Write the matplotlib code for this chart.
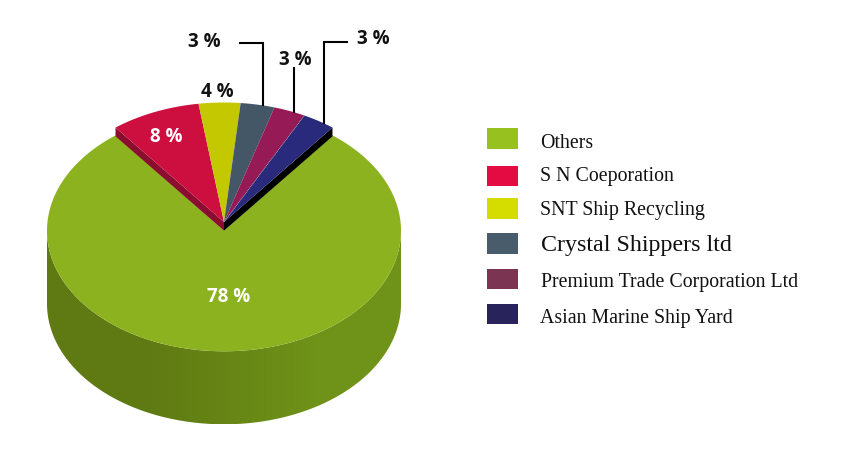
import numpy as np
from matplotlib import pyplot as plt
from matplotlib.patches import Polygon, Rectangle

names = ['Others', 'S N Coeporation', 'SNT Ship Recycling', 'Crystal Shippers ltd',
         'Premium Trade Corporation Ltd', 'Asian Marine Ship Yard']
# share of the circle as drawn, the printed labels are a bit different
shares = [79.0, 8.2, 3.8, 3.1, 2.9, 3.0]
pct_labels = ['78 %', '8 %', '4 %', '3 %', '3 %', '3 %']

slice_colors = ['#8cb31f', '#cc0f3f', '#c4c800', '#445766', '#951a55', '#2a2a7c']
legend_colors = ['#96c11f', '#e30b42', '#d5dc00', '#485c6b', '#7b3552', '#29235c']

cx, cy_top, cy_base = 224, 222, 230.7
rx, ry_top, ry_base = 177, 119.5, 120.6
depth = 73


def arc(start, end, cy, ry, n=200):
    # angles are clockwise from 12 o'clock, y axis points down
    t = np.radians(np.linspace(start, end, n))
    return cx + rx * np.sin(t), cy - ry * np.cos(t)


fig = plt.figure(figsize=(8.52, 4.54), dpi=100)
ax = fig.add_axes([0, 0, 1, 1])
ax.set_xlim(0, 852)
ax.set_ylim(454, 0)
ax.axis('off')

## angles, the small slices sit around the top
small_total = sum(shares[1:]) * 3.6
edges = -small_total / 2 + np.cumsum([0] + [s * 3.6 for s in shares[1:]])

## side of the cylinder, a horizontal gradient clipped to its outline
c0, c1 = np.array([0x5f, 0x7a, 0x13]), np.array([0x6f, 0x92, 0x18])
grad_x = np.arange(cx - rx, cx + rx)
f = np.clip((grad_x - 145) / 170, 0, 1)
grad = ((c0 + (c1 - c0) * f[:, None]) / 255)[None, :, :]
rim_x, rim_y = arc(-90, 90, cy_base, -ry_base, 200)
# -ry flips the arc to the lower half of the ellipse
outline = np.r_[np.c_[rim_x, rim_y], np.c_[rim_x[::-1], rim_y[::-1] + depth]]
im = ax.imshow(grad, extent=(cx - rx, cx + rx, cy_base + ry_base + depth, cy_base), aspect='auto', zorder=1)
im.set_clip_path(Polygon(outline, transform=ax.transData))
ax.set_xlim(0, 852)
ax.set_ylim(454, 0)

## big slice
ax_x, ax_y = arc(edges[-1], edges[0] + 360, cy_base, ry_base, 400)
ax.fill(np.r_[cx, ax_x], np.r_[cy_base, ax_y], color=slice_colors[0], lw=0, zorder=2)

## raised edges of the cut
drop = cy_base - cy_top
lx, ly = arc(edges[0], edges[0], cy_top, ry_top, 1)
rx_, ry_ = arc(edges[-1], edges[-1], cy_top, ry_top, 1)
ax.fill([cx, lx[0], lx[0], cx], [cy_top, ly[0], ly[0] + drop, cy_top + drop], color='#8b0d2f', lw=0, zorder=3)
ax.fill([cx, rx_[0], rx_[0], cx], [cy_top, ry_[0], ry_[0] + drop, cy_top + drop], color='black', lw=0, zorder=3)

## small slices
for i in range(1, len(shares)):
    xs, ys = arc(edges[i - 1], edges[i], cy_top, ry_top, 40)
    ax.fill(np.r_[cx, xs], np.r_[cy_top, ys], color=slice_colors[i], lw=0, zorder=4)
xs, ys = arc(edges[4], edges[4], cy_top, ry_top, 1)
ax.plot([cx, xs[0]], [cy_top, ys[0]], color='#b8b8b8', lw=0.5, ls=':', zorder=5)

## leader lines
ax.plot([240, 263, 262.5, 262.5], [43.3, 43.3, 43.3, 105], color='black', lw=1.5, solid_joinstyle='miter', zorder=5)
ax.plot([293.7, 293.7], [68, 112], color='black', lw=1.5, zorder=5)
ax.plot([347, 324, 324], [41.7, 41.7, 123], color='black', lw=1.5, solid_joinstyle='miter', zorder=5)

## percent labels
label_pos = [(229, 297, 'white'), (166, 137, 'white'), (217, 92, '#111111'),
             (204, 42, '#111111'), (295, 60, '#111111'), (373, 39, '#111111')]
for lab, (x, y, c) in zip(pct_labels, label_pos):
    ax.text(x, y, lab, ha='center', va='center', color=c, fontsize=13.5,
            fontfamily='Open Sans', fontweight='bold', zorder=6)

## legend
swatch_y = [128.3, 165.7, 198.3, 233.3, 269, 303.7]
text_y = [143.5, 176, 211, 245, 283, 319]
text_size = [14.3, 14.3, 14.3, 17.3, 14.3, 14.3]
text_x = [540.5, 540.5, 540.5, 541, 541, 540]
for i, name in enumerate(names):
    ax.add_patch(Rectangle((487.3, swatch_y[i]), 30.5, 20.3, facecolor=legend_colors[i], lw=0))
    ax.text(text_x[i], text_y[i], name, ha='left', va='center', color='#111111',
            fontsize=text_size[i], fontfamily='Liberation Serif')

plt.savefig('out.png', dpi=100)
